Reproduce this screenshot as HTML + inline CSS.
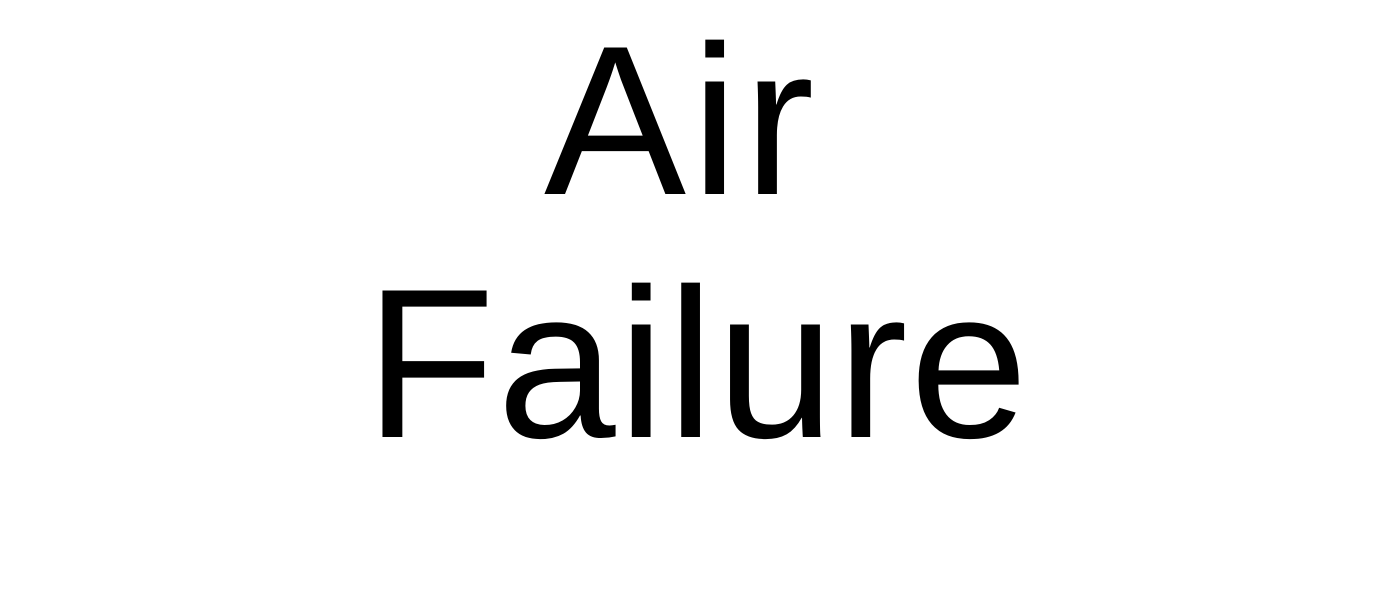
<!DOCTYPE html>
<html>
<head>
<meta charset="utf-8">
<style>
html,body{margin:0;padding:0;background:#fff;}
body{width:1392px;height:601px;position:relative;overflow:hidden;}
.t{position:absolute;font-family:"Liberation Sans",Arial,sans-serif;font-size:213px;line-height:213px;color:#000;white-space:nowrap;}
</style>
</head>
<body>
<div class="t" style="left:544px;top:15px;letter-spacing:5px;">Air</div>
<div class="t" style="left:365px;top:258px;letter-spacing:2px;">Failure</div>
</body>
</html>
